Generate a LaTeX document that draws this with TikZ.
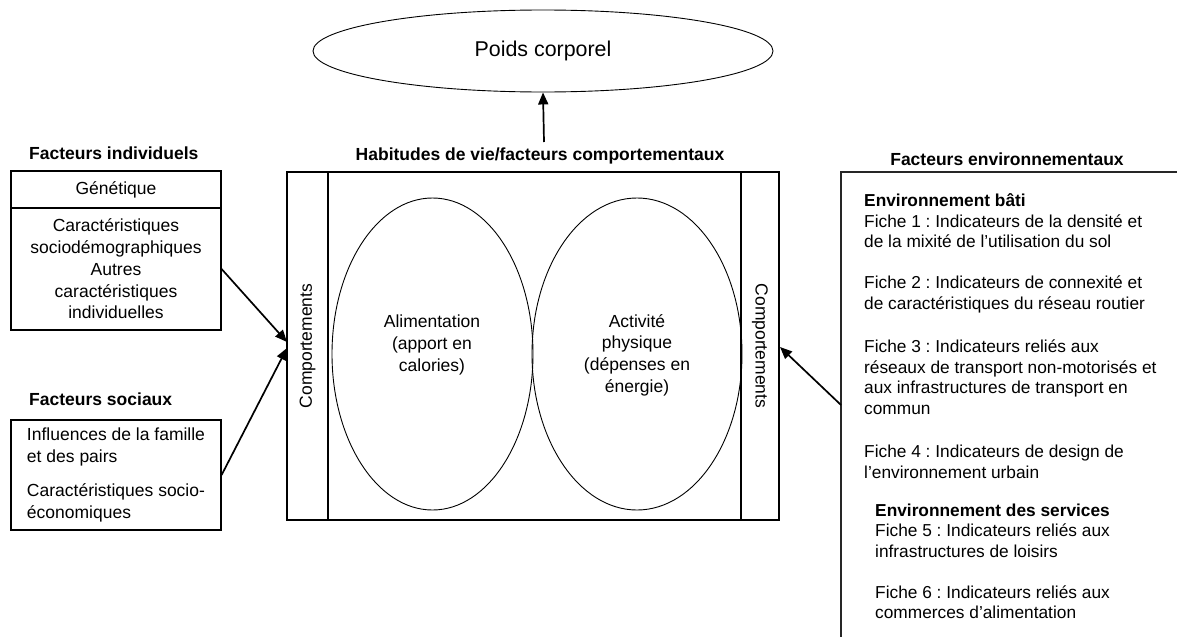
\documentclass[tikz,border=0pt]{standalone}
\usepackage{fontspec}
\setmainfont{Liberation Sans}
\usetikzlibrary{arrows.meta,shapes.geometric}
\frenchspacing
\begin{document}
\begin{tikzpicture}[x=1pt,y=-1pt,
  txt/.style={font=\fontsize{17.5}{21.7}\selectfont, inner sep=0pt},
  etxt/.style={font=\fontsize{17.3}{20.5}\selectfont, inner sep=0pt, anchor=base west},
  head/.style={font=\fontsize{17.5}{21}\selectfont\bfseries, inner sep=0pt},
  box/.style={draw, line width=1.2pt, inner sep=0pt},
  oval/.style={draw, ellipse, line width=0.9pt, inner sep=0pt},
  arr/.style={line width=1.7pt, -{Triangle[length=12pt,width=10pt]}},
]
\useasboundingbox (0,0) rectangle (1177,637);

% top
\node[oval, minimum width=460pt, minimum height=82pt, font=\fontsize{21.4}{25}\selectfont] (poids) at (543,51) {Poids corporel};
\node[head, anchor=base] (habit) at (540,160) {Habitudes de vie/facteurs comportementaux};

% central box
\node[box, minimum width=492pt, minimum height=348pt] (mainbox) at (533,346) {};
\node[box, txt, rotate=90, minimum width=348pt, minimum height=41pt] (colL) at (307.5,346) {Comportements};
\node[box, txt, rotate=-90, minimum width=348pt, minimum height=38pt] (colR) at (760,346) {Comportements};
\node[oval, minimum width=201pt, minimum height=312pt] (alim) at (432.5,354) {};
\node[oval, minimum width=210pt, minimum height=312pt] (act) at (637,354) {};
\node[txt, align=center] (alimt) at (432,345) {Alimentation\\(apport en\\calories)};
\node[txt, align=center] (actt) at (637,355) {Activité\\physique\\(dépenses en\\énergie)};

% individual factors
\node[head, anchor=base west] (indh) at (29,159) {Facteurs individuels};
\node[box, txt, minimum width=210pt, minimum height=37pt] (gen) at (116,189.5) {Génétique};
\node[box, txt, align=center, minimum width=210pt, minimum height=122pt] (carac) at (116,269) {Caractéristiques\\sociodémographiques\\Autres\\caractéristiques\\individuelles};

% social factors
\node[head, anchor=base west] (soch) at (29,405) {Facteurs sociaux};
\node[box, txt, align=left, minimum width=210pt, minimum height=110pt] (soc) at (116,475) {Influences de la famille\\et des pairs\\[12pt]Caractéristiques socio-\\économiques};

% environmental factors
\node[head, anchor=base] (envh) at (1007,165) {Facteurs environnementaux};
\draw[line width=1.6pt, black!85] (1177,172) -- (841,172) -- (841,637);
\node[etxt, font=\fontsize{17.3}{20.5}\selectfont\bfseries] (e0) at (864,206) {Environnement bâti};
\node[etxt] (e1) at (864,227) {Fiche 1 : Indicateurs de la densité et};
\node[etxt] (e2) at (864,247) {de la mixité de l’utilisation du sol};
\node[etxt] (e3) at (864,288) {Fiche 2 : Indicateurs de connexité et};
\node[etxt] (e4) at (864,309) {de caractéristiques du réseau routier};
\node[etxt] (e5) at (864,352) {Fiche 3 : Indicateurs reliés aux};
\node[etxt] (e6) at (864,373) {réseaux de transport non-motorisés et};
\node[etxt] (e7) at (864,393) {aux infrastructures de transport en};
\node[etxt] (e8) at (864,414) {commun};
\node[etxt] (e9) at (864,457) {Fiche 4 : Indicateurs de design de};
\node[etxt] (e10) at (864,478) {l’environnement urbain};
\node[etxt, font=\fontsize{17.3}{20.5}\selectfont\bfseries] (e11) at (875,516) {Environnement des services};
\node[etxt] (e12) at (875,536) {Fiche 5 : Indicateurs reliés aux};
\node[etxt] (e13) at (875,557) {infrastructures de loisirs};
\node[etxt] (e14) at (875,598) {Fiche 6 : Indicateurs reliés aux};
\node[etxt] (e15) at (875,618) {commerces d’alimentation};

% connectors
\coordinate (tipA) at (287,342);
\coordinate (tipB) at (287,348);
\coordinate (tipR) at (780,347);
\coordinate (envA) at (841,405);
\coordinate (habA) at (544,142);
\draw[arr] (carac.east) -- (tipA);
\draw[arr] (soc.east) -- (tipB);
\draw[arr] (envA) -- (tipR);
\draw[arr] (habA) -- (poids.south);
\end{tikzpicture}
\end{document}
